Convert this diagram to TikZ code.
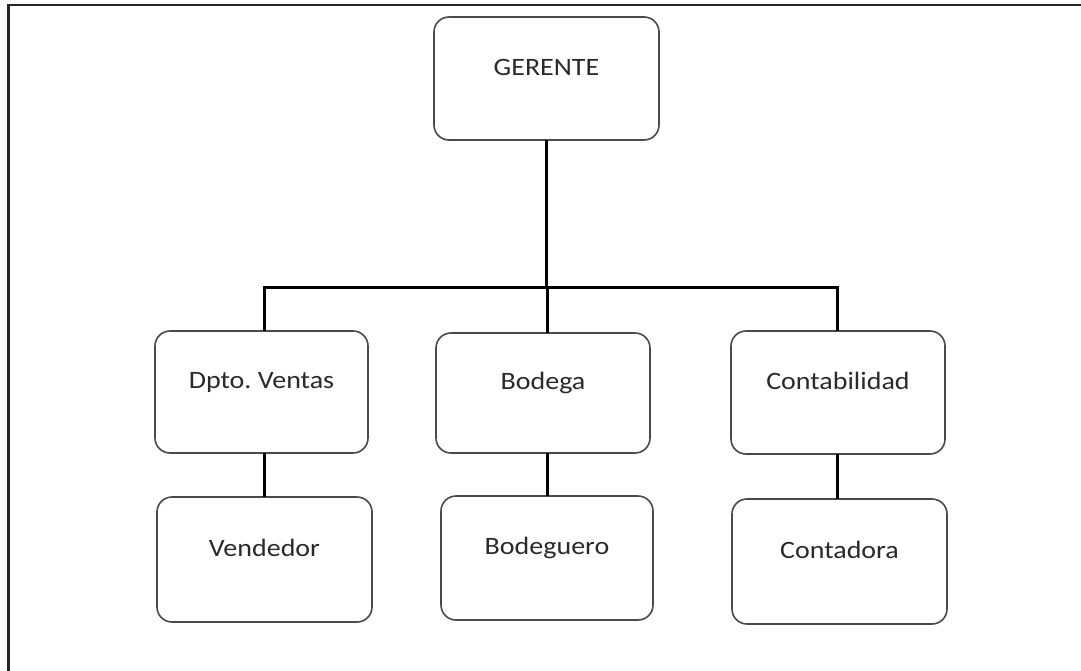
\documentclass[tikz,border=0pt]{standalone}
\usepackage{fontspec}
\setmainfont{Carlito}
\usepackage{graphicx}
\frenchspacing
\definecolor{boxline}{HTML}{4A4A4A}
\definecolor{txt}{HTML}{2A2A2A}
\newcommand{\lbl}[1]{\scalebox{1.12}[1]{#1}}
\tikzset{
  orgbox/.style={draw=boxline, line width=1.6pt, rounded corners=15pt, fill=white,
    inner sep=0pt, outer sep=0pt},
  orgtext/.style={anchor=base, inner sep=0pt, text=txt, font=\fontsize{25}{29}\selectfont},
  conn/.style={draw=black, line width=3pt},
  frameline/.style={draw=black!85, line width=2.5pt}
}
\newcommand{\orgnode}[6]{%
  % name, x1, y1, x2, y2, text
  \node[orgbox, minimum width={#4-#2}, minimum height={#5-#3}] (#1) at ({(#2+#4)/2},{-(#3+#5)/2}) {};
  \node[orgtext] (#1t) at ([yshift=3.5]#1.center) {\lbl{#6}};
}
\begin{document}
\begin{tikzpicture}[x=1pt,y=1pt]
\useasboundingbox (0,0) rectangle (1081,-670);
\clip (0,0) rectangle (1081,-670);
\fill[white] (0,0) rectangle (1081,-670);
\draw[frameline] (8.5,-5) rectangle (1100,-700);

\coordinate (bus) at (0,-287);

\orgnode{g}{434}{17}{659}{140}{GERENTE}
\orgnode{dv}{155}{331}{368}{453}{Dpto.\ Ventas}
\orgnode{bd}{436}{333}{650}{453}{Bodega}
\orgnode{ct}{731}{331}{945}{454}{Contabilidad}
\orgnode{vd}{157}{497}{372}{622}{Vendedor}
\orgnode{bq}{441}{496}{653}{620}{Bodeguero}
\orgnode{cd}{732}{499}{947}{624}{Contadora}

\draw[conn] ([xshift=3]dv.north) -- ([xshift=3]dv.north |- bus) -- ([xshift=-1]ct.north |- bus) -- ([xshift=-1]ct.north);
\draw[conn] (g.south) -- (g.south |- bus);
\draw[conn] ([xshift=4]bd.north) -- ([xshift=4]bd.north |- bus);
\draw[conn] ([xshift=3]dv.south) -- ([xshift=3]dv.south |- vd.north);
\draw[conn] ([xshift=4]bd.south) -- ([xshift=4]bd.south |- bq.north);
\draw[conn] ([xshift=-1]ct.south) -- ([xshift=-1]ct.south |- cd.north);
\end{tikzpicture}
\end{document}
